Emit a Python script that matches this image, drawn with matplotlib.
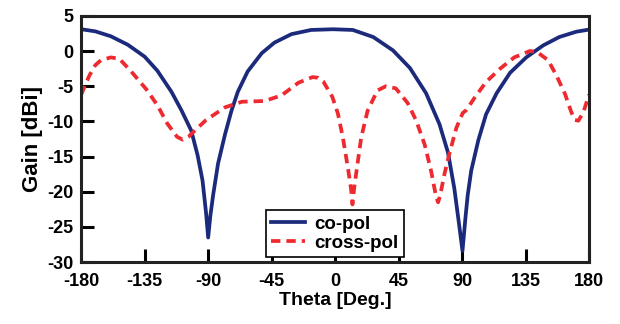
import numpy as np
import matplotlib
matplotlib.use("Agg")
import matplotlib.pyplot as plt

# co-pol gain
co_theta = [-180, -170, -159, -147, -135, -126, -116, -109, -102, -97.5, -94, -91.5,
            -90, -88.5, -86.5, -83, -78, -73.5, -69, -62, -52, -43, -31, -17, -1.5,
            12.5, 27, 41, 53, 64.5, 74, 80, 84.5, 88, 90.3, 92.5, 94, 96.5, 101.5,
            107, 114.5, 124, 135.5, 147.5, 159, 171, 180]
co_gain = [3.1, 2.8, 2.1, 0.9, -0.8, -2.8, -5.8, -8.4, -11.3, -14.8, -18.4, -23.0,
           -26.5, -23.5, -20.5, -16.0, -11.8, -8.5, -5.8, -2.9, -0.3, 1.2, 2.4, 3.0, 3.1,
           3.0, 2.0, 0.1, -2.4, -6.0, -10.4, -14.4, -19.5, -24.8, -28.4, -23.5, -20.5,
           -17.0, -12.7, -9.0, -6.0, -3.1, -0.9, 0.8, 2.0, 2.75, 3.05]

# cross-pol gain
x_theta = [-180, -176.5, -174, -170, -166, -159, -153, -145, -134, -126, -119, -112,
           -108, -104, -101, -91.5, -78, -66, -50, -38, -26, -16, -12, -8.5, -2, 2,
           5.5, 9, 11.3, 12.3, 13.5, 15, 18.5, 23, 30, 36, 43, 51.5, 57.5, 63.5, 68,
           71.5, 73, 74.5, 77.5, 81, 86, 90.5, 93, 99, 107, 117, 127, 138, 143, 151,
           157, 163, 167.5, 170, 172.5, 176, 180]
x_gain = [-6.2, -4.5, -3.4, -2.0, -1.3, -0.9, -1.1, -2.8, -5.4, -7.7, -10.3, -12.2,
          -12.6, -12.2, -11.6, -9.8, -8.0, -7.2, -7.1, -6.3, -4.5, -3.7, -3.8, -4.3,
          -6.5, -8.9, -12.3, -16.5, -19.6, -21.8, -19.5, -17.3, -12.3, -8.5, -5.6, -5.0,
          -5.3, -7.4, -9.9, -13.3, -17.0, -20.6, -21.5, -20.5, -17.5, -14.6, -10.9,
          -8.8, -8.4, -6.6, -4.4, -2.5, -0.9, 0.0, -0.1, -1.3, -3.5, -6.1, -8.7, -9.8,
          -9.9, -8.7, -6.2]

xticks = [-180, -135, -90, -45, 0, 45, 90, 135, 180]
yticks = [5, 0, -5, -10, -15, -20, -25, -30]

plt.rcParams["font.family"] = ["Liberation Sans", "DejaVu Sans"]
plt.rcParams["font.weight"] = "bold"
plt.rcParams["axes.unicode_minus"] = False

fig = plt.figure(figsize=(6.2, 3.24), dpi=100)
ax = fig.add_axes([0.131, 0.191, 0.819, 0.760])

ax.plot(co_theta, co_gain, color="#1c2a7c", lw=2.7, label="co-pol")
ax.plot(x_theta, x_gain, color="#ee2a30", lw=2.7, dashes=(2.5, 1.6), label="cross-pol")

ax.set_xlim(-180, 180)
ax.set_ylim(-30, 5)
ax.set_xticks(xticks)
ax.set_yticks(yticks)
ax.tick_params(direction="in", length=9.5, width=2.2, labelsize=13,
               top=False, right=False)
ax.tick_params(axis="x", pad=7.5)
ax.tick_params(axis="y", pad=5.5)
for lab in ax.get_xticklabels() + ax.get_yticklabels():
    lab.set_fontweight("bold")
for s in ax.spines.values():
    s.set_linewidth(2.2)
    s.set_color("#222222")

ax.set_xlabel("Theta [Deg.]", fontsize=14, fontweight="bold", labelpad=2)
ax.set_ylabel("Gain [dBi]", fontsize=16, fontweight="bold", labelpad=3)

leg = ax.legend(loc="lower center", bbox_to_anchor=(0.5, 0.02), borderaxespad=0,
                fancybox=False, framealpha=1, edgecolor="black",
                prop={"size": 13.5, "weight": "bold"}, handlelength=1.8,
                handletextpad=0.5, labelspacing=0.1, borderpad=0.3)
leg.get_frame().set_linewidth(1.2)

fig.savefig("out.png", dpi=100)
